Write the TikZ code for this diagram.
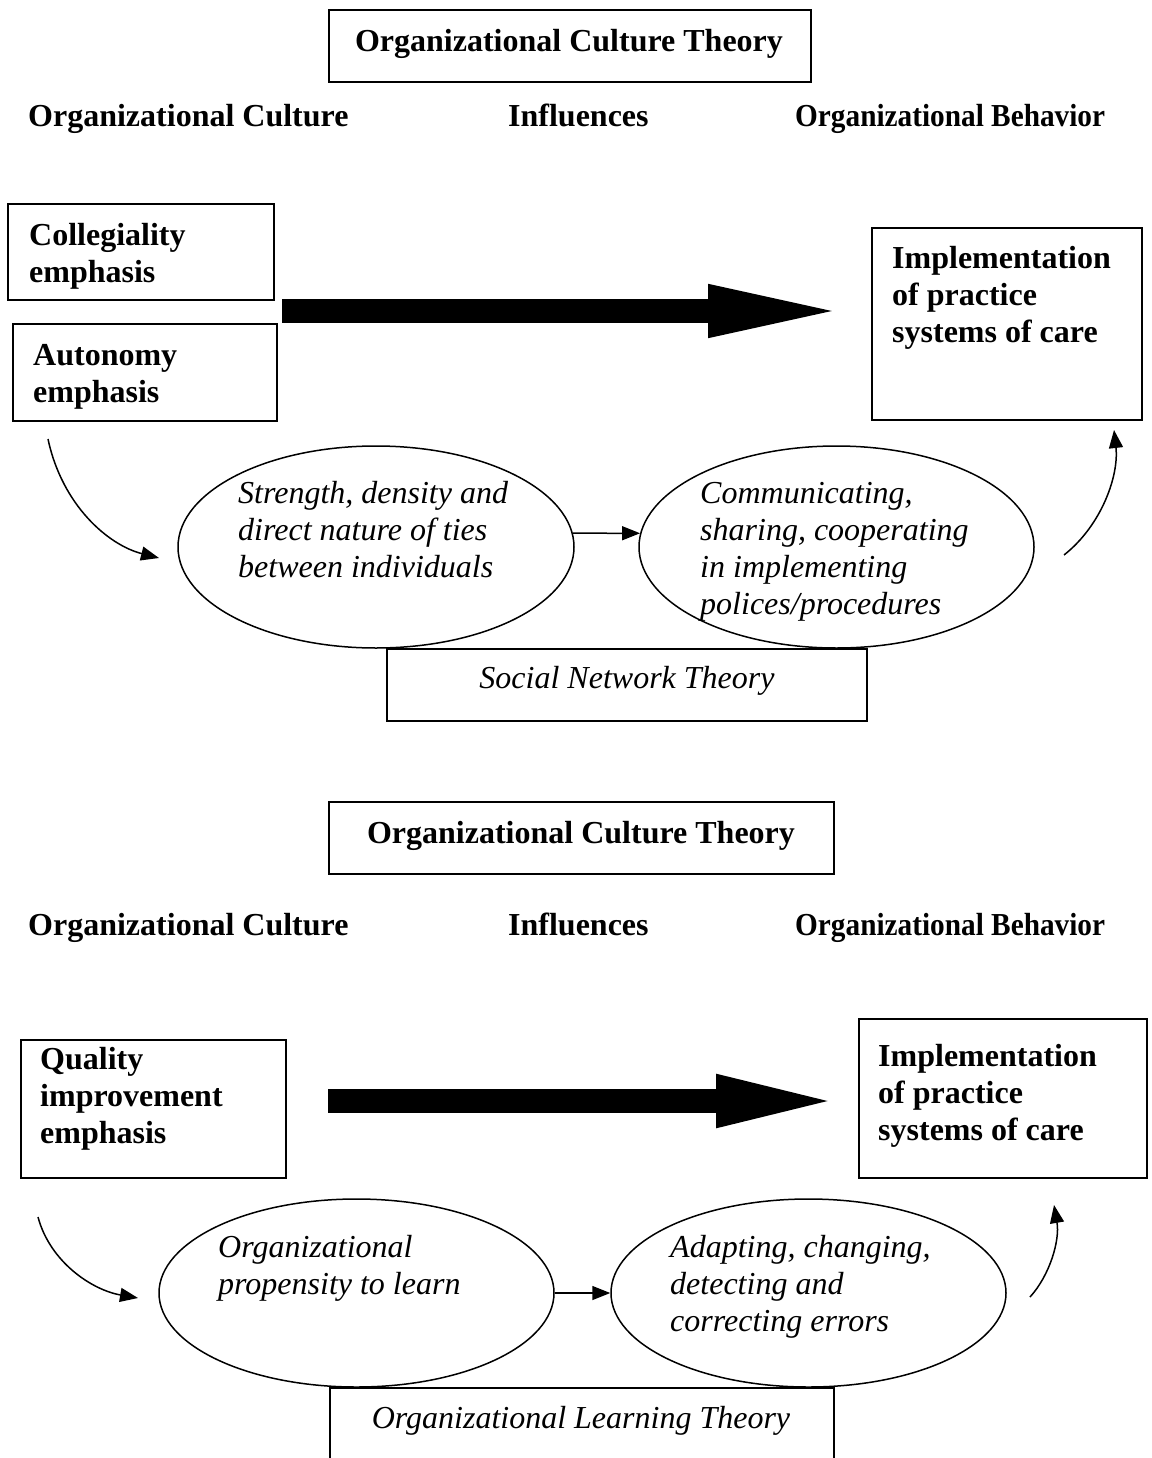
\documentclass[tikz,border=0pt]{standalone}
\usepackage{fontspec}
\setmainfont{Liberation Serif}
\usetikzlibrary{calc,arrows.meta,shapes.geometric}
\begin{document}
\begin{tikzpicture}[x=1pt,y=-1pt,
  frame/.style={draw, line width=1.8pt, inner sep=0pt, anchor=north west},
  bt/.style={font=\fontsize{32}{37}\selectfont\bfseries, inner sep=0pt, align=left},
  it/.style={font=\fontsize{32}{37}\selectfont\itshape, inner sep=0pt, align=left},
  oval/.style={draw, ellipse, line width=1.5pt, inner sep=0pt},
  thinarrow/.style={line width=1.5pt, -{Triangle[length=18pt,width=14pt]}},
  bigarrow/.style={line width=24pt, -{Triangle[length=#1,width=46pt]}}]
\useasboundingbox (0,0) rectangle (1151,1458);
\clip (0,0) rectangle (1151,1458);
\fill[white] (0,0) rectangle (1151,1458);

% ---------- upper diagram ----------
\node[frame, minimum width=482pt, minimum height=72pt] (t1box) at (328,9) {};
\node[bt, anchor=base] (t1) at (569,52) {Organizational Culture Theory};
\node[bt, anchor=base west] (h1a) at (28,127) {Organizational Culture};
\node[bt, anchor=base west] (h1b) at (508,127) {Influences};
\node[bt, anchor=base west] (h1c) at (795,127) {\scalebox{0.915}[1]{Organizational Behavior}};

\node[frame, minimum width=266pt, minimum height=96pt] (coll) at (7,203) {};
\node[bt, anchor=north west] (collt) at (29,219.1) {\strut Collegiality\\emphasis};
\node[frame, minimum width=264pt, minimum height=97pt] (auto) at (12,323) {};
\node[bt, anchor=north west] (autot) at (33,339.1) {\strut Autonomy\\emphasis};
\node[frame, minimum width=270pt, minimum height=192pt] (impl1) at (871,227) {};
\node[bt, anchor=north west] (impl1t) at (892,242.1) {\strut Implementation\\of practice\\systems of care};

\coordinate (b1s) at (282,311);
\coordinate (b1e) at (852,311);
\draw[bigarrow=144pt] (b1s) -- (b1e);

\node[frame, minimum width=480pt, minimum height=72pt] (snt) at (386,648) {};
\node[it, anchor=base] (sntt) at (627,688) {Social Network Theory};

\node[oval, minimum width=396pt, minimum height=202pt] (e1) at (376,547) {};
\node[it, anchor=north west] (e1t) at (238,477.1) {\strut Strength, density and\\direct nature of ties\\between individuals};
\node[oval, minimum width=395pt, minimum height=202pt] (e2) at (836.5,547) {};
\node[it, anchor=north west] (e2t) at (700,477.1) {\strut Communicating,\\sharing, cooperating\\in implementing\\polices/procedures};

\draw[thinarrow] (e1.4) -- (e2.176);

\coordinate (c1s) at (48,439);
\coordinate (c1e) at (159,558);
\draw[thinarrow] (c1s) .. controls (62,505) and (108,545) .. (c1e);
\coordinate (c2s) at (1064,555);
\coordinate (c2e) at (1114,430);
\draw[thinarrow] (c2s) .. controls (1102,525) and (1119,475) .. (c2e);

% ---------- lower diagram ----------
\node[frame, minimum width=505pt, minimum height=72pt] (t2box) at (328,801) {};
\node[bt, anchor=base] (t2) at (581,843) {Organizational Culture Theory};
\node[bt, anchor=base west] (h2a) at (28,935) {Organizational Culture};
\node[bt, anchor=base west] (h2b) at (508,935) {Influences};
\node[bt, anchor=base west] (h2c) at (795,935) {\scalebox{0.915}[1]{Organizational Behavior}};

\node[frame, minimum width=265pt, minimum height=138pt] (qual) at (20,1039) {};
\node[bt, anchor=north west] (qualt) at (40,1043.1) {\strut Quality\\improvement\\emphasis};
\node[frame, minimum width=288pt, minimum height=159pt] (impl2) at (858,1018) {};
\node[bt, anchor=north west] (impl2t) at (878,1040.1) {\strut Implementation\\of practice\\systems of care};

\coordinate (b2s) at (328,1101);
\coordinate (b2e) at (846,1101);
\draw[bigarrow=130pt] (b2s) -- (b2e);

\node[frame, minimum width=504pt, minimum height=90pt] (olt) at (329,1387) {};
\node[it, anchor=base] (oltt) at (581,1428) {Organizational Learning Theory};

\node[oval, minimum width=395pt, minimum height=188pt] (e3) at (356.5,1293) {};
\node[it, anchor=north west] (e3t) at (218,1231.1) {\strut Organizational\\propensity to learn};
\node[oval, minimum width=395pt, minimum height=188pt] (e4) at (808.5,1293) {};
\node[it, anchor=north west] (e4t) at (670,1231.1) {\strut Adapting, changing,\\detecting and\\correcting errors};

\draw[thinarrow] (e3.east) -- (e4.west);

\coordinate (c3s) at (38,1217);
\coordinate (c3e) at (138,1298);
\draw[thinarrow] (c3s) .. controls (50,1262) and (92,1290) .. (c3e);
\coordinate (c4s) at (1030,1297);
\coordinate (c4e) at (1054,1205);
\draw[thinarrow] (c4s) .. controls (1050,1275) and (1060,1240) .. (c4e);
\end{tikzpicture}
\end{document}
